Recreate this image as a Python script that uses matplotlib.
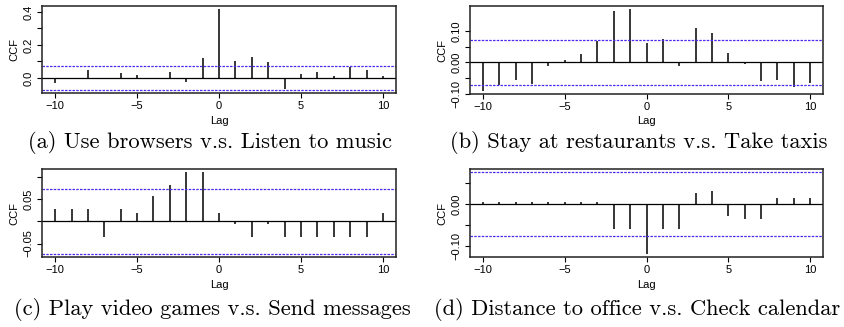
import matplotlib
matplotlib.use("Agg")
import matplotlib.pyplot as plt
import numpy as np

lags = list(range(-10, 11))

ccf_a = [-0.028, -0.006, 0.050, -0.005, 0.028, 0.020, -0.008, 0.033, -0.024, 0.118, 0.417,
         0.104, 0.126, 0.094, -0.065, 0.026, 0.033, 0.012, 0.067, 0.049, 0.014]
ccf_b = [-0.091, -0.072, -0.057, -0.068, -0.012, 0.0075, 0.026, 0.070, 0.167, 0.171, 0.061,
         0.075, -0.013, 0.111, 0.096, 0.029, -0.006, -0.061, -0.055, -0.078, -0.067]
ccf_c = [0.028, 0.028, 0.028, -0.036, 0.028, 0.019, 0.058, 0.082, 0.111, 0.111, 0.019,
         -0.006, -0.036, -0.006, -0.036, -0.036, -0.036, -0.036, -0.036, -0.036, 0.019]
ccf_d = [0.004, 0.004, 0.004, 0.004, 0.004, 0.004, 0.004, 0.004, -0.060, -0.060, -0.119,
         -0.060, -0.060, 0.026, 0.032, -0.029, -0.037, -0.037, 0.015, 0.015, 0.015]

conf_bands = [0.072, 0.073, 0.073, 0.0758]

yticks_a = [0.0, 0.1, 0.2, 0.3, 0.4]
ylabels_a = ["0.0", "", "0.2", "", "0.4"]
yticks_b = [-0.10, -0.05, 0.0, 0.05, 0.10]
ylabels_b = ["\u22120.10", "", "0.00", "", "0.10"]
yticks_c = [-0.05, 0.0, 0.05, 0.10]
ylabels_c = ["\u22120.05", "", "0.05", ""]
yticks_d = [-0.10, -0.05, 0.0, 0.05]
ylabels_d = ["\u22120.10", "", "0.00", ""]

xticks = [-10, -5, 0, 5, 10]
xlabels = ["\u221210", "\u22125", "0", "5", "10"]

captions = [
    "(a) Use browsers v.s. Listen to music",
    "(b) Stay at restaurants v.s. Take taxis",
    "(c) Play video games v.s. Send messages",
    "(d) Distance to office v.s. Check calendar",
]

W, H = 844, 327
SANS = "Liberation Sans"
CI_COLOR = "#5028f0"


def px_rect(left, top, right, bottom):
    """pixel box -> figure fraction rect"""
    return [left / W, 1 - bottom / H, (right - left) / W, (bottom - top) / H]


def ccf_panel(ax, values, ci, yticks, ylabels):
    """draw one R-style ccf plot"""
    ax.vlines(lags, 0, values, color="black", lw=1.1)
    ax.axhline(0, color="black", lw=0.9)
    ax.axhline(ci, color=CI_COLOR, lw=0.9, ls=(0, (2, 1)))
    ax.axhline(-ci, color=CI_COLOR, lw=0.9, ls=(0, (2, 1)))

    lo = min(min(values), -ci)
    hi = max(max(values), ci)
    pad = 0.04 * (hi - lo)
    ax.set_ylim(lo - pad, hi + pad)
    ax.set_xlim(-10.8, 10.8)

    ax.set_xticks(xticks)
    ax.set_xticklabels(xlabels, fontsize=8, family=SANS)
    ax.set_yticks(yticks)
    ax.set_yticklabels(ylabels, fontsize=8, family=SANS, rotation=90, va="center")
    ax.tick_params(direction="out", length=3.5, width=0.8, pad=2.5)

    ax.set_xlabel("Lag", fontsize=8, family=SANS, labelpad=3)
    ax.set_ylabel("CCF", fontsize=8, family=SANS, labelpad=3)
    for sp in ax.spines.values():
        sp.set_linewidth(1.1)
        sp.set_color("#222222")


def main():
    """main function"""
    fig = plt.figure(figsize=(W / 100, H / 100), dpi=100)

    boxes = [(42, 6, 396, 93), (470, 6, 823, 94), (42, 169, 396, 257), (470, 169, 823, 257)]
    series = [ccf_a, ccf_b, ccf_c, ccf_d]
    ticks = [(yticks_a, ylabels_a), (yticks_b, ylabels_b),
             (yticks_c, ylabels_c), (yticks_d, ylabels_d)]

    for box, vals, ci, (yt, yl) in zip(boxes, series, conf_bands, ticks):
        ax = fig.add_axes(px_rect(*box))
        ccf_panel(ax, vals, ci, yt, yl)

    cap_pos = [(210, 148), (639, 148), (212, 315), (637, 315)]
    for (x, y), text in zip(cap_pos, captions):
        fig.text(x / W, 1 - y / H, text, ha="center", va="baseline",
                 family="cmr10", fontsize=16.2)

    fig.savefig("out.png", dpi=100)


if __name__ == "__main__":
    main()
